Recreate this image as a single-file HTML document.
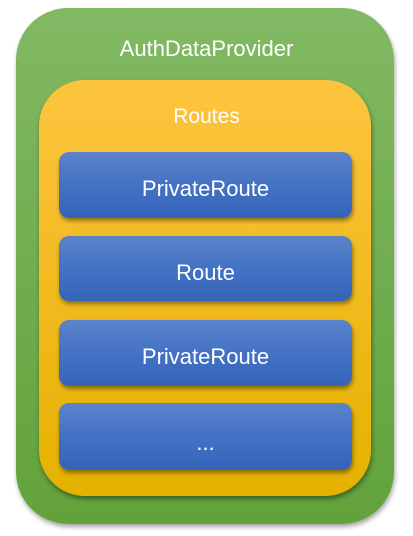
<!DOCTYPE html>
<html><head><style>
body{margin:0;width:413px;height:536px;background:#fff;position:relative;overflow:hidden;font-family:"Liberation Sans",sans-serif;}
.g{position:absolute;left:16px;top:8px;width:378px;height:516px;border-radius:52px;background:linear-gradient(#82b964,#62a23b);box-shadow:1px 3px 5px rgba(0,0,0,.35);}
.y{position:absolute;left:39px;top:80px;width:332px;height:416px;border-radius:46px;background:linear-gradient(#fdc43f,#e5b200);box-shadow:1px 3px 5px rgba(0,0,0,.4);}
.b{position:absolute;left:59px;width:293px;border-radius:10px;background:linear-gradient(#5a83ca,#4472c4 50%,#3563b8);box-shadow:1px 3px 4px rgba(0,0,0,.4);color:#fff;font-size:22px;display:flex;align-items:center;justify-content:center;padding-top:8px;box-sizing:border-box;}
.t{position:absolute;left:0;width:413px;text-align:center;color:#fff;font-size:22px;}
</style></head><body>
<div class="g"></div>
<div class="t" style="top:36px">AuthDataProvider</div>
<div class="y"></div>
<div class="t" style="top:105px;font-size:21px">Routes</div>
<div class="b" style="top:152px;height:66px">PrivateRoute</div>
<div class="b" style="top:236px;height:65px">Route</div>
<div class="b" style="top:320px;height:66px">PrivateRoute</div>
<div class="b" style="top:403px;height:67px;padding-top:12px">...</div>
</body></html>
